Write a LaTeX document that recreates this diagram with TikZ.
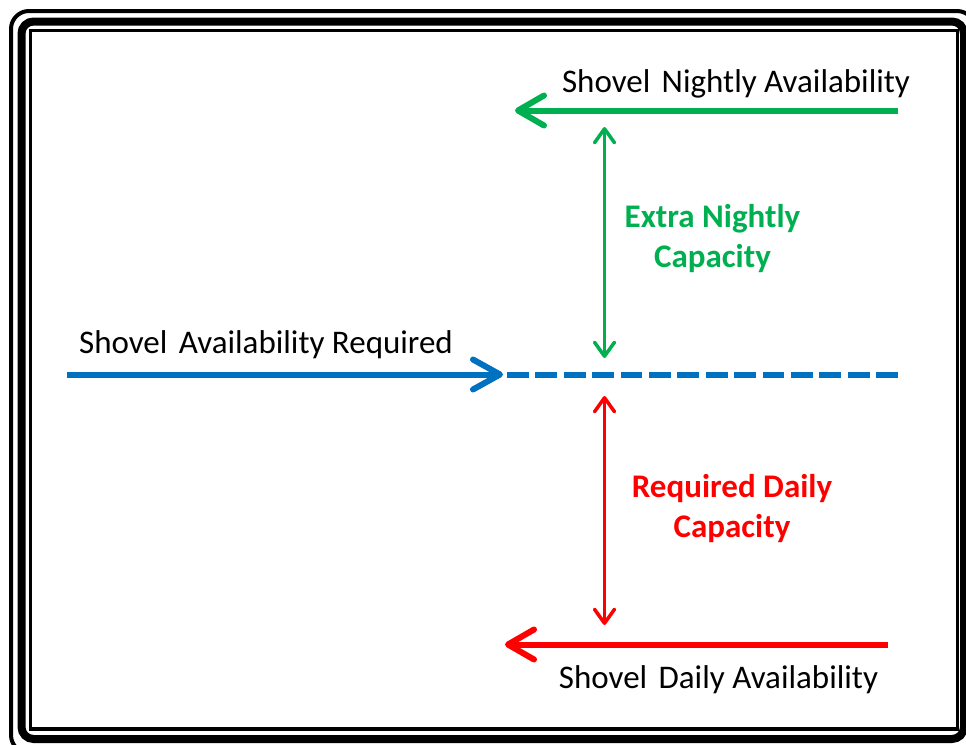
\documentclass[tikz,border=0pt]{standalone}
\usepackage{fontspec}
\setmainfont{Carlito}
\usetikzlibrary{arrows.meta}
\definecolor{nightgreen}{HTML}{00B050}
\definecolor{reqblue}{HTML}{0070C0}
\definecolor{dayred}{HTML}{FF0000}
\newcommand{\widegap}{\hspace{0.12em} }
\tikzset{
  label text/.style={inner sep=0pt, font=\fontsize{33}{37}\selectfont},
  capacity text/.style={inner sep=0pt, align=center, font=\fontsize{33}{40}\selectfont\bfseries},
  level line/.style={line width=6pt, -{Straight Barb[length=26pt,width=30pt,round]}},
  span arrow/.style={line width=3.5pt, {Straight Barb[length=14pt,width=20pt,round]}-{Straight Barb[length=14pt,width=20pt,round]}},
}
\begin{document}
\begin{tikzpicture}[x=1pt,y=-1pt]
  \useasboundingbox (0,0) rectangle (966,744);
  \clip (0,0) rectangle (966,744);
  % triple-line page frame
  \draw[line width=4pt, rounded corners=18pt] (11,11) rectangle (975,753);
  \draw[line width=8pt, rounded corners=12pt] (21.5,21.5) rectangle (964,739);
  \draw[line width=3.5pt] (30.5,30.5) rectangle (957.5,729);

  % end points of the level lines and the span arrows
  \coordinate (nightR) at (898,110.5);
  \coordinate (nightL) at (515,110.5);
  \coordinate (reqL)   at (67,374.5);
  \coordinate (reqM)   at (503,374.5);
  \coordinate (reqD)   at (507,374.5);
  \coordinate (reqR)   at (898,374.5);
  \coordinate (dayR)   at (888,644.5);
  \coordinate (dayL)   at (505,644.5);
  \coordinate (gTop)   at (604.5,127);
  \coordinate (gBot)   at (604.5,358);
  \coordinate (rTop)   at (604.5,396);
  \coordinate (rBot)   at (604.5,625);

  % level lines
  \draw[level line, nightgreen] (nightR) -- (nightL);
  \draw[level line, reqblue, -{Straight Barb[length=27pt,width=30pt,round]}] (reqL) -- (reqM);
  \draw[reqblue, line width=6pt, dash pattern=on 21.7pt off 6.7pt] (reqD) -- (reqR);
  \draw[level line, dayred] (dayR) -- (dayL);

  % capacity spans
  \draw[span arrow, nightgreen] (gTop) -- (gBot);
  \draw[span arrow, dayred] (rTop) -- (rBot);

  % labels
  \node[label text, anchor=base] (nightlbl) at (736,92) {Shovel\widegap Nightly Availability};
  \node[label text, anchor=base] (reqlbl) at (266,353) {Shovel\widegap Availability Required};
  \node[label text, anchor=base] (daylbl) at (718.5,688) {Shovel\widegap Daily Availability};
  \node[capacity text, nightgreen] (extralbl) at (712.5,238.5) {Extra Nightly\\Capacity};
  \node[capacity text, dayred] (requiredlbl) at (732,508.5) {Required Daily\\Capacity};
\end{tikzpicture}
\end{document}
